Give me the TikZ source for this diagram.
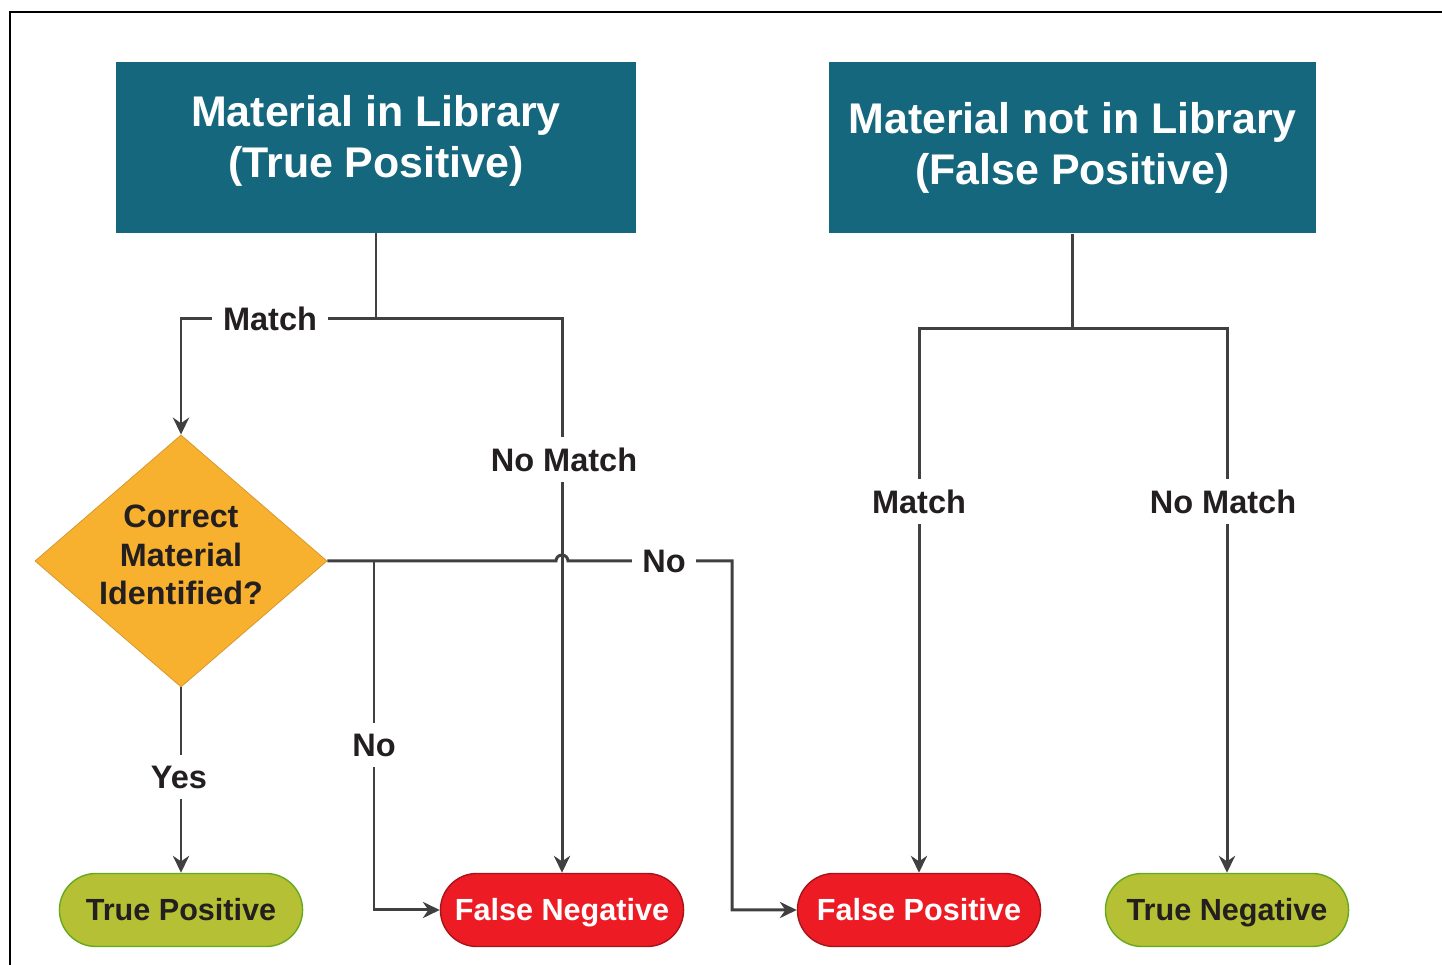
\documentclass[tikz,border=0pt]{standalone}
\usepackage{fontspec}
\setmainfont{Liberation Sans}
\usetikzlibrary{shapes.geometric,arrows.meta,positioning,calc}
\definecolor{tealbox}{RGB}{21,103,126}
\definecolor{amber}{RGB}{247,177,47}
\definecolor{olivegreen}{RGB}{181,192,52}
\definecolor{alertred}{RGB}{237,28,36}
\definecolor{wire}{RGB}{64,64,64}
\definecolor{ink}{RGB}{35,31,32}

\begin{document}
\begin{tikzpicture}[x=0.01cm,y=-0.01cm,
		header/.style={fill=tealbox, text=white, minimum height=1.71cm, align=center,
			font=\fontsize{12.2}{14.5}\selectfont\bfseries},
		choice/.style={diamond, fill=amber, draw=amber!85!black, line width=0.2pt, inner sep=0pt,
			shape aspect=1.16, minimum width=2.92cm, minimum height=2.52cm, align=center,
			text=ink, font=\fontsize{9.2}{11}\selectfont\bfseries},
		outcome/.style={rounded corners=0.365cm, minimum width=2.43cm, minimum height=0.73cm,
			text height=0.72em, text depth=0.1em,
			font=\fontsize{8.7}{10}\selectfont\bfseries, line width=0.4pt},
		good/.style={outcome, fill=olivegreen, draw=olivegreen!70!green!80!black, text=ink},
		bad/.style={outcome, fill=alertred, draw=alertred!70!black, text=white},
		lbl/.style={fill=white, inner sep=3pt, text=ink, font=\fontsize{9.25}{11}\selectfont\bfseries},
		wired/.style={draw=wire, line width=0.85pt},
		>={Stealth[length=4.8pt,width=4.6pt]}]
	\useasboundingbox (0,0) rectangle (1442,965);
	% frame
	\draw[line width=0.5pt] (10,965) -- (10,12) -- (1442,12);

	% boxes
	\fill[tealbox] (116,62) rectangle (636,233);
	\node[header, fill=none, minimum width=5.2cm] (libbox) at (376,141) {Material in Library\\(True Positive)};
	\coordinate (libfoot) at (376,233);
	\node[header, minimum width=4.87cm] (nolibbox) at (1072.5,147.5) {Material not in Library\\(False Positive)};
	\node[choice] (decide) at (181,561) {};
	\node[align=center, text=ink, font=\fontsize{9.2}{11}\selectfont\bfseries] (decidetext) at (181,555) {Correct\\Material\\Identified?};
	\node[good] (tp) at (181,910) {True Positive};
	\node[bad] (fn) at (562,910) {False Negative};
	\node[bad] (fp) at (919,910) {False Positive};
	\node[good] (tn) at (1227,910) {True Negative};

	% bends
	\coordinate (matchL) at (181,319);
	\coordinate (nomatchL) at (562,319);
	\coordinate (matchR) at (919,329);
	\coordinate (nomatchR) at (1227,329);
	\coordinate (hop) at (562,561);
	\coordinate (nosplit) at (374,561);
	\coordinate (nobend) at (732,561);

	% left tree
	\draw[wired,->] (libfoot) |- (matchL) -- (decide.north);
	\draw[wired,->] (libfoot) |- (nomatchL) -- (fn.north);
	\draw[wired,->] (decide.east) -- ([xshift=-0.06cm]hop) arc (180:0:0.06cm) -- (nobend) |- (fp.west);
	\draw[wired,->] (nosplit) |- (fn.west);
	\draw[wired,->] (decide.south) -- (tp.north);
	\node[lbl] at (270,319) {Match};
	\node[lbl] at (564,460) {No Match};
	\node[lbl] at (664,561) {No};
	\node[lbl] at (374,745) {No};
	\node[lbl] at (179,777) {Yes};

	% right tree
	\draw[wired,->] (nolibbox.south) |- (matchR) -- (fp.north);
	\draw[wired,->] (nolibbox.south) |- (nomatchR) -- (tn.north);
	\node[lbl] at (919,502) {Match};
	\node[lbl] at (1223,502) {No Match};
\end{tikzpicture}
\end{document}
